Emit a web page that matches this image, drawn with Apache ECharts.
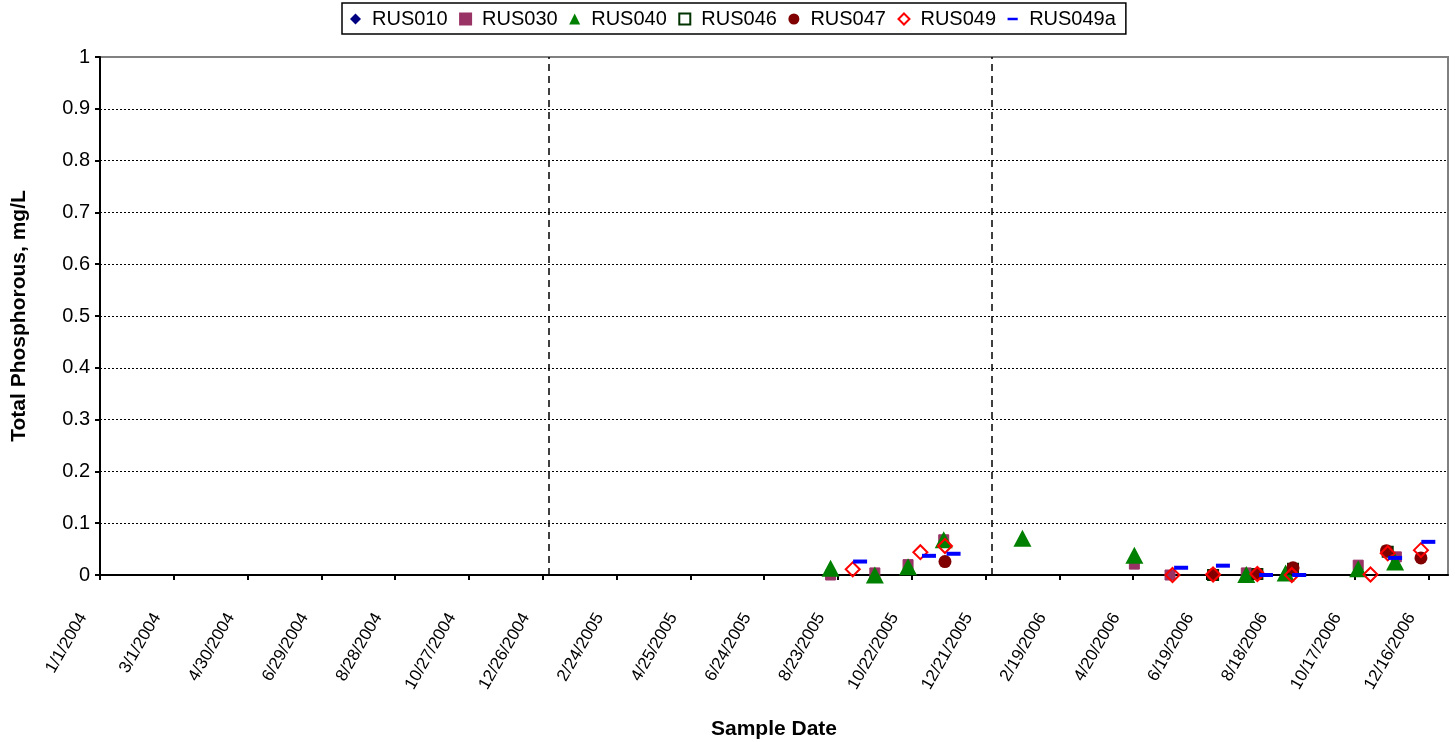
<!DOCTYPE html>
<html>
<head>
<meta charset="utf-8">
<script src="https://cdn.jsdelivr.net/npm/echarts@6/dist/echarts.min.js"></script>
<style>
  html, body { margin: 0; padding: 0; background: #fff; }
  #chart { width: 1455px; height: 742px; }
</style>
</head>
<body>
<div id="chart"></div>
<script>
// ---- Data ----
const axisStart = '2004-01-01';
const axisEnd = '2007-01-01';
const tickLabels = ['1/1/2004', '3/1/2004', '4/30/2004', '6/29/2004', '8/28/2004', '10/27/2004',
  '12/26/2004', '2/24/2005', '4/25/2005', '6/24/2005', '8/23/2005', '10/22/2005', '12/21/2005',
  '2/19/2006', '4/20/2006', '6/19/2006', '8/18/2006', '10/17/2006', '12/16/2006'];
const yTickLabels = ['0', '0.1', '0.2', '0.3', '0.4', '0.5', '0.6', '0.7', '0.8', '0.9', '1'];
const dividerDates = ['2004-12-31', '2005-12-26'];

const seriesNames = ['RUS010', 'RUS030', 'RUS040', 'RUS046', 'RUS047', 'RUS049', 'RUS049a'];

const rus010Dates = [];
const rus010Values = [];

const rus030Dates = ['2005-08-17', '2005-09-22', '2005-10-19', '2005-11-17', '2006-04-21', '2006-05-20', '2006-07-21', '2006-10-20', '2006-11-20'];
const rus030Values = [0, 0.004, 0.02, 0.068, 0.021, 0, 0.004, 0.019, 0.035];

const rus040Dates = ['2005-08-17', '2005-09-22', '2005-10-19', '2005-11-17', '2006-01-20', '2006-04-21', '2006-07-21', '2006-08-22', '2006-10-20', '2006-11-19'];
const rus040Values = [0.013, 0, 0.016, 0.068, 0.071, 0.038, 0.001, 0.004, 0.012, 0.025];

const rus046Dates = ['2006-06-24', '2006-07-30', '2006-08-28', '2006-11-13'];
const rus046Values = [0, 0.002, 0.012, 0.045];

const rus047Dates = ['2005-11-18', '2006-06-24', '2006-07-30', '2006-08-28', '2006-11-12', '2006-12-10'];
const rus047Values = [0.026, 0.001, 0.002, 0.014, 0.047, 0.033];

const rus049Dates = ['2005-09-04', '2005-10-29', '2005-11-18', '2006-05-22', '2006-06-24', '2006-07-30', '2006-08-27', '2006-10-30', '2006-11-13', '2006-12-10'];
const rus049Values = [0.011, 0.044, 0.056, 0, 0.001, 0.002, 0, 0.001, 0.042, 0.048];

const rus049aDates = ['2005-09-10', '2005-11-05', '2005-11-25', '2006-05-29', '2006-07-02', '2006-08-06', '2006-09-02', '2006-11-19', '2006-12-16'];
const rus049aValues = [0.026, 0.037, 0.041, 0.014, 0.018, 0, 0, 0.033, 0.064];

// ---- Helpers ----
const DAY = 86400000;
function dayNum(s) {
  const p = s.split('-').map(Number);
  const b = axisStart.split('-').map(Number);
  return (Date.UTC(p[0], p[1] - 1, p[2]) - Date.UTC(b[0], b[1] - 1, b[2])) / DAY;
}
function pairs(dates, values) {
  return dates.map((d, i) => [dayNum(d), values[i]]);
}
const xMax = dayNum(axisEnd);
const TICK = 60;

const styles = {
  RUS010: { symbol: 'diamond', symbolSize: 11, itemStyle: { color: '#000080', opacity: 1 } },
  RUS030: { symbol: 'rect', symbolSize: 10, itemStyle: { color: '#993366', borderColor: '#993366', borderWidth: 1, opacity: 1 } },
  RUS040: { symbol: 'triangle', symbolSize: [18, 17], itemStyle: { color: '#008000', opacity: 1 } },
  RUS046: { symbol: 'rect', symbolSize: 10, itemStyle: { color: 'rgba(255,255,255,0)', borderColor: '#003300', borderWidth: 2, opacity: 1 } },
  RUS047: { symbol: 'circle', symbolSize: 13, itemStyle: { color: '#800000', opacity: 1 } },
  RUS049: { symbol: 'diamond', symbolSize: 14, itemStyle: { color: 'rgba(255,255,255,0)', borderColor: '#ff0000', borderWidth: 2, opacity: 1 } },
  RUS049a: { symbol: 'rect', symbolSize: [14, 4], itemStyle: { color: '#0000ff', opacity: 1 } }
};
const dataMap = {
  RUS010: pairs(rus010Dates, rus010Values),
  RUS030: pairs(rus030Dates, rus030Values),
  RUS040: pairs(rus040Dates, rus040Values),
  RUS046: pairs(rus046Dates, rus046Values),
  RUS047: pairs(rus047Dates, rus047Values),
  RUS049: pairs(rus049Dates, rus049Values),
  RUS049a: pairs(rus049aDates, rus049aValues)
};

const series = seriesNames.map(n => Object.assign({
  name: n,
  type: 'scatter',
  data: dataMap[n],
  animation: false,
  emphasis: { disabled: true }
}, styles[n]));

series.push({
  name: 'dividers',
  type: 'scatter',
  data: [],
  silent: true,
  markLine: {
    silent: true,
    symbol: 'none',
    animation: false,
    label: { show: false },
    lineStyle: { color: '#000', width: 1.5, type: [7, 5] },
    data: dividerDates.map(d => ({ xAxis: dayNum(d) }))
  }
});

const legendIcons = {
  RUS010: 'diamond', RUS030: 'rect', RUS040: 'triangle', RUS046: 'rect',
  RUS047: 'circle', RUS049: 'diamond', RUS049a: 'path://M0,5 L12,5 L12,8 L0,8 Z M0,0 L0,0.01 Z M0,13 L0,13.01 Z'
};

const chart = echarts.init(document.getElementById('chart'), null, { renderer: 'canvas' });
chart.setOption({
  backgroundColor: '#ffffff',
  animation: false,
  textStyle: { fontFamily: 'Liberation Sans, Arial, sans-serif' },
  legend: {
    left: 342,
    top: 3,
    orient: 'horizontal',
    borderColor: '#000',
    borderWidth: 1.5,
    padding: [6, 10, 5, 8],
    itemGap: 11.5,
    itemWidth: 11,
    itemHeight: 11,
    textStyle: { fontSize: 20, color: '#000', fontFamily: 'Liberation Sans, Arial, sans-serif', padding: [0, 0, 0, 6] },
    data: seriesNames.map(n => ({ name: n, icon: legendIcons[n] }))
  },
  grid: {
    left: 100,
    right: 7,
    top: 57,
    bottom: 167,
    containLabel: false,
    outerBoundsMode: 'none',
    show: true,
    borderColor: '#808080',
    borderWidth: 2,
    backgroundColor: '#ffffff'
  },
  xAxis: {
    type: 'value',
    min: 0,
    max: xMax,
    interval: TICK,
    name: 'Sample Date',
    nameLocation: 'middle',
    nameGap: 144,
    nameTextStyle: { fontSize: 21, fontWeight: 'bold', color: '#000' },
    axisLine: { show: true, lineStyle: { color: '#000', width: 2 } },
    axisTick: { show: true, length: 5, lineStyle: { color: '#000', width: 2 } },
    splitLine: { show: false },
    axisLabel: {
      rotate: 60,
      fontSize: 17,
      color: '#000',
      margin: 10,
      padding: [0, 34, 14, 0],
      showMaxLabel: false,
      formatter: function (v) {
        const i = Math.round(v / TICK);
        if (Math.abs(v - i * TICK) > 0.01) return '';
        return tickLabels[i] || '';
      }
    }
  },
  yAxis: {
    type: 'value',
    min: 0,
    max: 1,
    interval: 0.1,
    name: 'Total Phosphorous, mg/L',
    nameLocation: 'middle',
    nameGap: 70,
    nameTextStyle: { fontSize: 21, fontWeight: 'bold', color: '#000' },
    axisLine: { show: true, lineStyle: { color: '#000', width: 2 } },
    axisTick: { show: true, length: 5, lineStyle: { color: '#000', width: 2 } },
    splitLine: { show: true, showMinLine: false, showMaxLine: false, lineStyle: { color: '#000', width: 1, type: [2, 2] } },
    axisLabel: {
      fontSize: 20,
      color: '#000',
      margin: 10,
      formatter: function (v) {
        const i = Math.round(v * 10);
        return yTickLabels[i] !== undefined ? yTickLabels[i] : '';
      }
    }
  },
  series: series
});
</script>
</body>
</html>
